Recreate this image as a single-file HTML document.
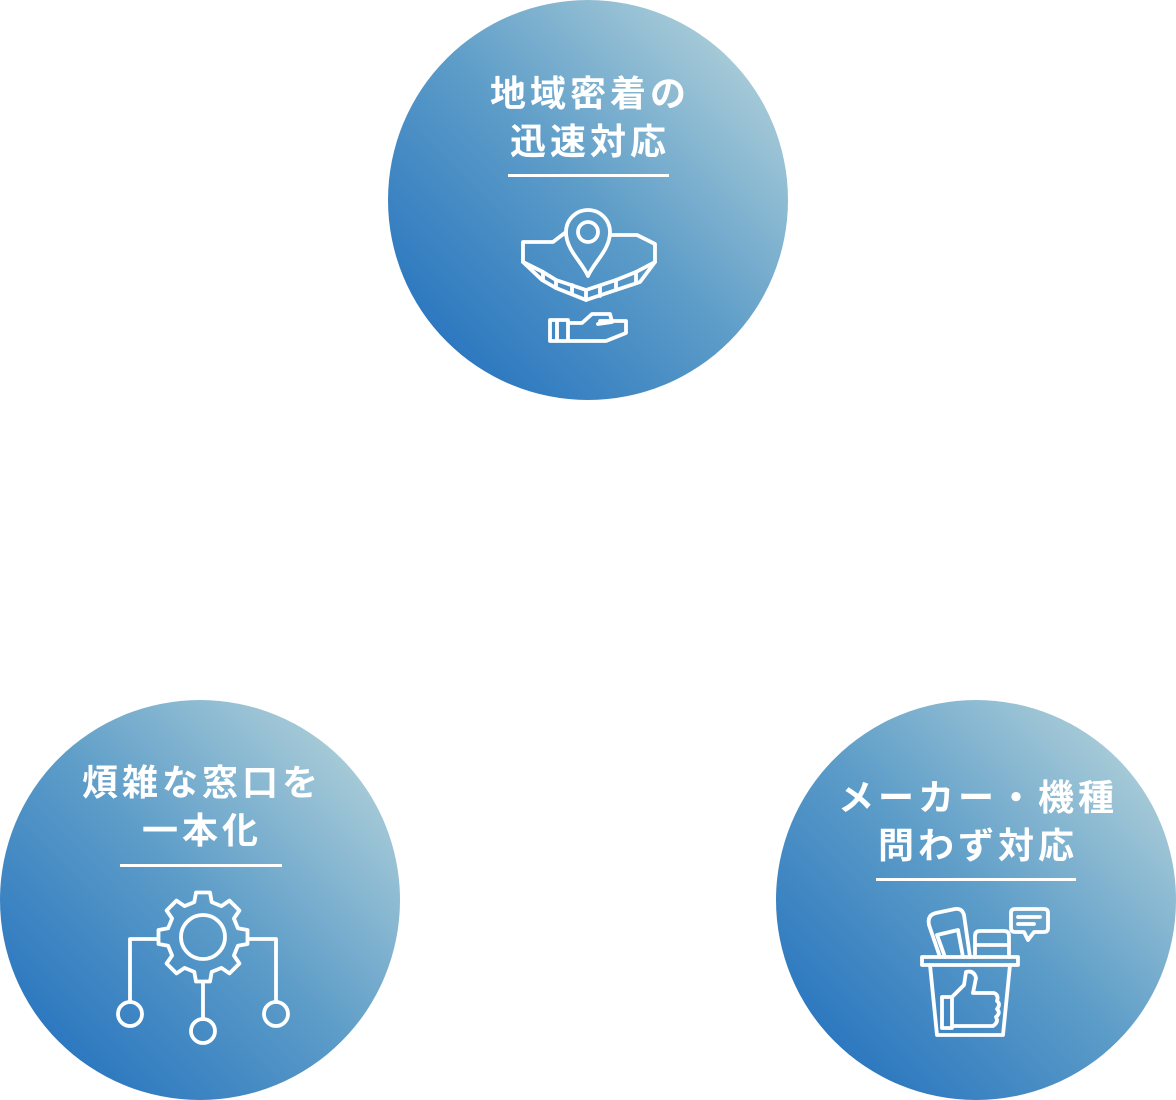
<!DOCTYPE html>
<html><head><meta charset="utf-8"><style>
html,body{margin:0;padding:0;background:#fff;}
svg{display:block}
text{font-family:"Liberation Sans","Noto Sans CJK JP",sans-serif;font-weight:bold;fill:#fff;font-size:36px;text-anchor:middle;letter-spacing:4px}
</style></head><body>
<svg width="1176" height="1100" viewBox="0 0 1176 1100" xmlns="http://www.w3.org/2000/svg">
<defs>
<linearGradient id="g" x1="0.15" y1="0.9" x2="0.9" y2="0.15">
<stop offset="0" stop-color="#2a76bf"/>
<stop offset="0.5" stop-color="#5c9cc8"/>
<stop offset="1" stop-color="#a9ccd8"/>
</linearGradient>
</defs>
<circle cx="588" cy="200" r="200" fill="url(#g)"/>
<circle cx="200" cy="900" r="200" fill="url(#g)"/>
<circle cx="976" cy="900" r="200" fill="url(#g)"/>

<text x="590" y="106">地域密着の</text>
<text x="590" y="154">迅速対応</text>
<rect x="508" y="174" width="161" height="3" fill="#fff"/>

<text x="202" y="795">煩雑な窓口を</text>
<text x="202" y="843">一本化</text>
<rect x="120" y="864" width="162" height="3" fill="#fff"/>

<text x="978" y="810">メーカー・機種</text>
<text x="978" y="858">問わず対応</text>
<rect x="876" y="878" width="200" height="3" fill="#fff"/>

<g fill="none" stroke="#fff" stroke-width="3.8" stroke-linejoin="round" stroke-linecap="round">
<path d="M566 232 L553 242 L523 242 L523 262 L542 280 L556 288 L586 300 L616 290 L640 282 L655 262 L655 244 L637 235 L612 235"/>
<path d="M523 262 L543 272 L556 280 L586 290 L616 280 L636 272 L655 262"/>
<path d="M543 272 L543 280 M556 280 L556 288 M572 285 L572 294 M586 290 L586 300 M600 287 L600 296 M616 280 L616 290 M636 272 L636 282"/>
<path d="M588 276 C582 262 566 250 566 232 A22 22 0 0 1 610 232 C610 250 594 262 588 276 Z"/>
<circle cx="588" cy="232" r="10"/>
<path d="M550 320 L550 341 L568 341 L568 320 Z M557 320 L557 341 M568 323 L582 323 L592 314 L610 314 L612 322 L598 324 M600 321 L626 321 L626 333 L606 341 L568 341"/>
<polygon transform="translate(203,937)" points="34.9,-8.7 44.5,-7 44.5,7 34.9,8.7 30.9,18.5 36.4,26.5 26.5,36.4 18.5,30.9 8.7,34.9 7,44.5 -7,44.5 -8.7,34.9 -18.5,30.9 -26.5,36.4 -36.4,26.5 -30.9,18.5 -34.9,8.7 -44.5,7 -44.5,-7 -34.9,-8.7 -30.9,-18.5 -36.4,-26.5 -26.5,-36.4 -18.5,-30.9 -8.7,-34.9 -7,-44.5 7,-44.5 8.7,-34.9 18.5,-30.9 26.5,-36.4 36.4,-26.5 30.9,-18.5"/>
<circle cx="203" cy="937" r="22"/>
<path d="M157 939 L130 939 L130 1002 M249 939 L276 939 L276 1002 M203 982 L203 1019"/>
<circle cx="130" cy="1014" r="12"/>
<circle cx="276" cy="1014" r="12"/>
<circle cx="203" cy="1031" r="12"/>
<path d="M922 957 L1018 957 L1018 965 L922 965 Z"/>
<path d="M930 965 L937 1035 L1003 1035 L1010 965"/>
<path d="M940 957 L929 925 Q927 915 936 913 L955 909 Q962 908 964 915 L970 957"/>
<path d="M945 957 L937 935 L958 930 L963 957"/>
<path d="M975 957 L975 936 Q975 931 980 931 L1004 931 Q1009 931 1009 936 L1009 957 M975 945 L1009 945"/>
<path d="M1011 912 L1011 928 Q1011 932 1015 932 L1024 932 L1028 940 L1034 932 L1044 932 Q1048 932 1048 928 L1048 913 Q1048 909 1044 909 L1015 909 Q1011 909 1011 913 Z M1018 917 L1040 917 M1018 924 L1034 924"/>
<path d="M942 997 L952 997 L952 1028 L942 1028 Z M952 997 L964 985 L966 972 Q974 970 976 978 L973 993 L994 993 Q999 995 997 1001 Q1001 1004 997 1009 Q1001 1013 996 1017 Q999 1022 993 1026 L952 1026"/>
</g>
</svg>
</body></html>
